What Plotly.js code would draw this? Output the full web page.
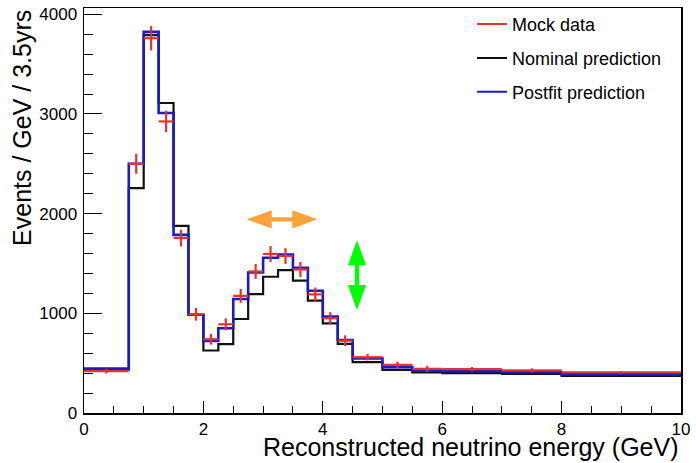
<!DOCTYPE html>
<html>
<head>
<meta charset="utf-8">
<script src="https://cdn.plot.ly/plotly-3.0.1.min.js"></script>
<style>html,body{margin:0;padding:0;background:#fff;}#chart{width:696px;height:463px;}</style>
</head>
<body>
<div id="chart"></div>
<script>
// Bin edges (GeV)
const binEdges = [0, 0.75, 1.0, 1.25, 1.5, 1.75, 2.0, 2.25, 2.5, 2.75, 3.0, 3.25, 3.5, 3.75, 4.0, 4.25, 4.5, 5.0, 5.5, 6.0, 7.0, 8.0, 10.0];
// Bin centers and half widths for the mock data crosses
const binCenters = [0.375, 0.875, 1.125, 1.375, 1.625, 1.875, 2.125, 2.375, 2.625, 2.875, 3.125, 3.375, 3.625, 3.875, 4.125, 4.375, 4.75, 5.25, 5.75, 6.5, 7.5, 9.0];
const binHalfWidths = [0.375, 0.125, 0.125, 0.125, 0.125, 0.125, 0.125, 0.125, 0.125, 0.125, 0.125, 0.125, 0.125, 0.125, 0.125, 0.125, 0.25, 0.25, 0.25, 0.5, 0.5, 1.0];
// Events / GeV / 3.5yrs
const mockData   = [420, 2500, 3760, 2925, 1755, 990, 740, 890, 1175, 1420, 1595, 1575, 1440, 1190, 950, 725, 560, 483, 443, 440, 427, 407];
const mockErr    = [24, 100, 123, 108, 84, 63, 54, 60, 69, 75, 80, 79, 76, 69, 62, 54, 33, 31, 30, 21, 21, 14];
const nominal    = [435, 2256, 3790, 3110, 1877, 985, 627, 690, 943, 1193, 1367, 1433, 1327, 1127, 900, 693, 510, 433, 407, 400, 393, 373];
const postfit    = [445, 2500, 3823, 3010, 1787, 985, 723, 850, 1143, 1410, 1557, 1590, 1457, 1227, 967, 733, 547, 460, 427, 420, 410, 387];

const seriesNames = ["Mock data", "Nominal prediction", "Postfit prediction"];
const xTitle = "Reconstructed neutrino energy (GeV)";
const yTitle = "Events / GeV / 3.5yrs";

const RED = "#e5322c", BLACK = "#111111", BLUE = "#1a1acc";

function stepY(vals) { return vals.concat([vals[vals.length - 1]]); }

const traces = [
  { x: binEdges, y: stepY(nominal), type: "scatter", mode: "lines", line: {shape: "hv", color: BLACK, width: 2.2}, showlegend: false, hoverinfo: "skip" },
  { x: binEdges, y: stepY(postfit), type: "scatter", mode: "lines", line: {shape: "hv", color: BLUE, width: 2.6}, showlegend: false, hoverinfo: "skip" },
  { x: binCenters, y: mockData, type: "scatter", mode: "markers", marker: {size: 1, color: RED, opacity: 0},
    error_x: {type: "data", array: binHalfWidths, visible: true, color: RED, thickness: 2.2, width: 0},
    error_y: {type: "data", array: mockErr, visible: true, color: RED, thickness: 2.2, width: 0},
    showlegend: false },
  // legend entries
  { x: [null], y: [null], type: "scatter", mode: "lines", name: seriesNames[0], line: {color: RED, width: 2}, legendgroup: "a" },
  { x: [null], y: [null], type: "scatter", mode: "lines", name: seriesNames[1], line: {color: BLACK, width: 2}, legendgroup: "b" },
  { x: [null], y: [null], type: "scatter", mode: "lines", name: seriesNames[2], line: {color: BLUE, width: 2}, legendgroup: "c" }
];

const font = "Liberation Sans, Arial, Helvetica, sans-serif";

const layout = {
  width: 696, height: 463,
  margin: {l: 84, r: 15, t: 7, b: 50, pad: 0},
  paper_bgcolor: "#ffffff", plot_bgcolor: "#ffffff",
  font: {family: font, color: "#000", size: 17},
  showlegend: true,
  legend: {x: 0.65, xanchor: "left", y: 1.003, yanchor: "top", bgcolor: "rgba(255,255,255,0)", borderwidth: 0,
           font: {family: font, size: 18, color: "#000"}, tracegroupgap: 7.5, traceorder: "grouped"},
  xaxis: {range: [0, 10], showgrid: false, zeroline: false, showline: true, linecolor: "#000", linewidth: 1.5, mirror: true,
          ticks: "inside", ticklen: 12, tickwidth: 1, tickcolor: "#000", dtick: 2, tick0: 0,
          minor: {ticks: "inside", ticklen: 7, dtick: 0.5, tickcolor: "#000", tickwidth: 1, showgrid: false},
          tickfont: {size: 17, family: font}, ticklabelstandoff: 0},
  yaxis: {range: [0, 4063], showgrid: false, zeroline: false, showline: true, linecolor: "#000", linewidth: 1.5, mirror: true,
          ticks: "inside", ticklen: 18, tickwidth: 1, tickcolor: "#000", dtick: 1000, tick0: 0,
          minor: {ticks: "inside", ticklen: 9, dtick: 200, tickcolor: "#000", tickwidth: 1, showgrid: false},
          tickfont: {size: 17, family: font}, ticklabelstandoff: 2},
  annotations: [
    {text: xTitle, xref: "paper", yref: "paper", x: 1.0, y: -0.083, xanchor: "right", yanchor: "middle", showarrow: false,
     font: {family: font, size: 25, color: "#000"}},
    {text: yTitle, xref: "paper", yref: "paper", x: -0.104, y: 1.0, xanchor: "center", yanchor: "top", textangle: -90, showarrow: false,
     font: {family: font, size: 25, color: "#000"}}
  ],
  shapes: [
    {type: "path", xref: "x", yref: "y", fillcolor: "#f9a33a", line: {width: 0},
     path: "M 2.725,1943 L 3.144,2035 L 3.144,1965 L 3.489,1965 L 3.489,2035 L 3.908,1943 L 3.489,1851 L 3.489,1921 L 3.144,1921 L 3.144,1851 Z"},
    {type: "path", xref: "x", yref: "y", fillcolor: "#00ff00", line: {width: 0},
     path: "M 4.573,1733 L 4.726,1483 L 4.609,1483 L 4.609,1283 L 4.726,1283 L 4.573,1033 L 4.42,1283 L 4.537,1283 L 4.537,1483 L 4.42,1483 Z"}
  ]
};

Plotly.newPlot("chart", traces, layout, {displayModeBar: false, staticPlot: true});
</script>
</body>
</html>
